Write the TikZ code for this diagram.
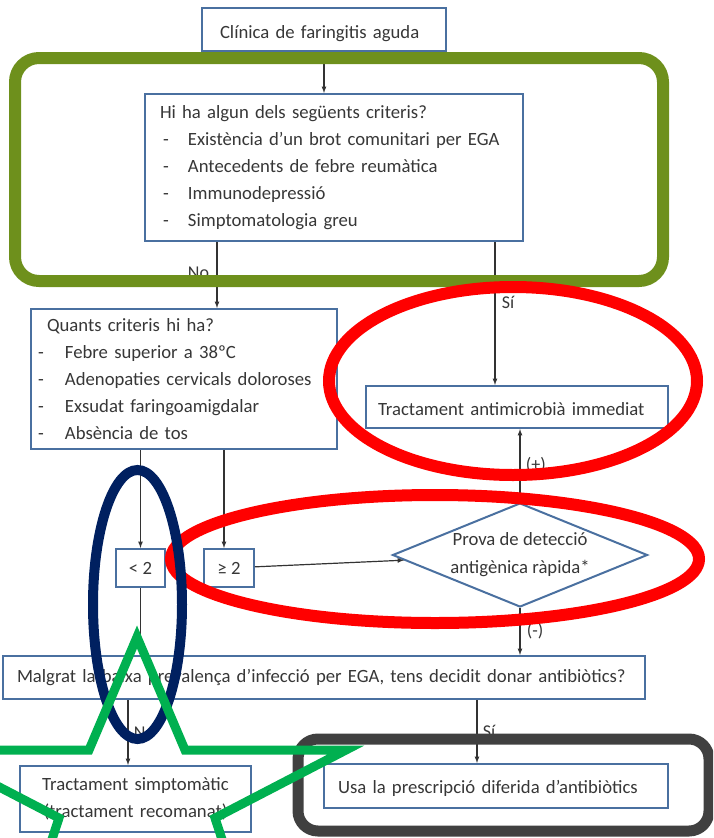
\documentclass[tikz,border=0pt]{standalone}
\usepackage{fontspec}
\setmainfont{Carlito}
\usepackage{xcolor}
\usepackage{tikz}
\usetikzlibrary{shapes,arrows,positioning}

\definecolor{boxblue}{RGB}{74,112,160}
\definecolor{txtgray}{RGB}{55,55,55}
\definecolor{olivegreen}{RGB}{110,144,28}
\definecolor{hlnavy}{RGB}{0,32,96}
\definecolor{stargreen}{RGB}{0,176,80}
\definecolor{framegray}{RGB}{64,64,64}

\newcommand{\critem}{\hspace*{3pt}\makebox[25pt][l]{-}}
\newcommand{\qitem}{\makebox[27pt][l]{-}}

\begin{document}
\begin{tikzpicture}[
    x=1pt, y=-1pt,
    box/.style={rectangle, draw=boxblue, line width=2pt, fill=white, inner ysep=0pt, align=left, font=\fontsize{18.7}{27}\selectfont, text=txtgray, anchor=north west},
    decision/.style={diamond, draw=boxblue, line width=2pt, fill=white, aspect=2.45, inner sep=0pt, align=center, font=\fontsize{18.7}{28}\selectfont, text=txtgray},
    arrow/.style={->, >=latex, line width=1.2pt, draw=black!80},
    note/.style={font=\fontsize{18}{20}\selectfont, text=txtgray},
    ring/.style={draw=red, line width=12pt}
]
\useasboundingbox (0,0) rectangle (713,838);
\clip (0,0) rectangle (713,838);

% Entry and exclusion criteria
\node[box, text width=208pt, inner xsep=18pt, minimum height=43pt, text height=21pt] (clin) at (201,7) {Clínica de faringitis aguda};
\node[box, text width=348pt, inner xsep=15pt, minimum height=147pt] (crit) at (144,93) {Hi ha algun dels següents criteris?\\ \critem Existència d’un brot comunitari per EGA\\ \critem Antecedents de febre reumàtica\\ \critem Immunodepressió\\ \critem Simptomatologia greu};

% Centor criteria
\node[box, text width=292pt, inner xsep=7pt, minimum height=140pt] (quants) at (30,308) {\hspace*{9pt}Quants criteris hi ha?\\ \qitem Febre superior a 38ºC\\ \qitem Adenopaties cervicals doloroses\\ \qitem Exsudat faringoamigdalar\\ \qitem Absència de tos};
\node[box, text width=278pt, inner xsep=12pt, minimum height=42pt, text height=17pt] (immed) at (365,385) {Tractament antimicrobià immediat};

% Score and rapid test
\node[box, align=center, minimum width=49pt, minimum height=38pt, inner xsep=0pt] (less) at (115,548) {< 2};
\node[box, align=center, minimum width=50pt, minimum height=38pt, inner xsep=0pt] (geq) at (203,548) {≥ 2};
\node[decision, minimum width=255pt, minimum height=104pt] (rapid) at (520,555) {Prova de detecció\\antigènica ràpida*};

% Final decision
\node[box, text width=614pt, inner xsep=14pt, minimum height=43pt] (malgrat) at (2,655) {Malgrat la baixa prevalença d’infecció per EGA, tens decidit donar antibiòtics?};
\node[box, align=center, text width=231pt, inner xsep=0pt, minimum height=66pt] (simpt) at (19,765) {Tractament simptomàtic\\(tractament recomanat)};
\node[box, text width=316pt, inner xsep=14pt, minimum height=44pt, text height=17pt] (usa) at (323,763) {Usa la prescripció diferida d’antibiòtics};

\coordinate (xno) at (217,0);
\coordinate (xsi) at (495,0);
\coordinate (xgeq) at (224,0);
\coordinate (xno2) at (128,0);
\coordinate (xsi2) at (477,0);

% Arrows
\draw[arrow] (clin.south) -- (clin.south |- crit.north);
\draw[arrow] (crit.south -| xno) -- (quants.north -| xno) node[pos=0.47, left=4pt, note] {No};
\draw[arrow] (crit.south -| xsi) -- (immed.north -| xsi) node[pos=0.42, right=3pt, note] {Sí};
\draw[arrow] (quants.south -| less.south) -- (less.north);
\draw[arrow] (quants.south -| xgeq) -- (geq.north -| xgeq);
\draw[arrow] (geq) -- (rapid);
\draw[arrow] (rapid.north) -- (rapid.north |- immed.south) node[midway, right=2pt, note] {(+)};
\draw[arrow] (rapid.south) -- (rapid.south |- malgrat.north) node[midway, right=3pt, note] {(-)};
\draw[arrow] (less.south) -- (less.south |- malgrat.north);
\draw[arrow] (malgrat.south -| xno2) -- (simpt.north -| xno2) node[midway, right=2pt, note] {No};
\draw[arrow] (malgrat.south -| xsi2) -- (usa.north -| xsi2) node[midway, right=2pt, note] {Sí};

% Highlights
\draw[draw=olivegreen, line width=12pt, rounded corners=24pt] (15,58) rectangle (663,281);
\draw[ring] (513,381) ellipse [x radius=184, y radius=94];
\draw[ring] (435,559) ellipse [x radius=264, y radius=64];
\draw[draw=hlnavy, line width=10pt] (137.5,604.5) ellipse [x radius=44.5, y radius=134.5];
\draw[draw=framegray, line width=11pt, rounded corners=20pt] (298,739) rectangle (709,831);
\draw[draw=stargreen, line width=9pt, line join=miter] (137,637) -- (185,750) -- (346,750) -- (215,818) -- (255,940) -- (137,862) -- (19,940) -- (59,818) -- (-72,750) -- (89,750) -- cycle;

\end{tikzpicture}
\end{document}
